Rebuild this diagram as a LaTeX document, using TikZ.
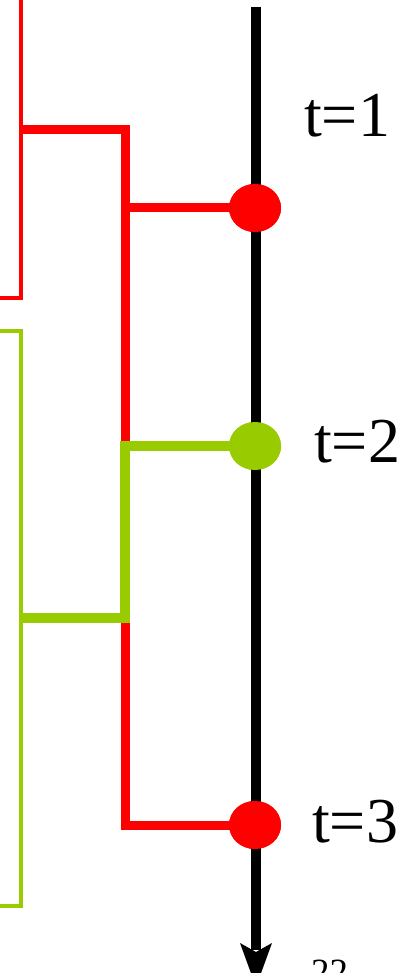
\documentclass[tikz,border=0pt]{standalone}
\usepackage{fontspec}
\setmainfont{Liberation Serif}
\usetikzlibrary{shapes.geometric}
\definecolor{lgreen}{RGB}{153,204,0}
\tikzset{
  dotnode/.style={ellipse, minimum width=52pt, minimum height=48pt, inner sep=0pt, draw=none},
  thinline/.style={line width=4pt, miter limit=10},
  thickline/.style={line width=9pt, miter limit=10},
  lbl/.style={anchor=base west, inner sep=0pt, font=\fontsize{64}{64}\selectfont},
}
\begin{document}
\begin{tikzpicture}[x=1pt,y=-1pt]
\useasboundingbox (0,0) rectangle (412,973);
\clip (0,0) rectangle (412,973);
% thin brackets
\draw[thinline, red] (21,-10) -- (21,298) -- (-10,298);
\draw[thinline, lgreen] (-10,331) -- (21,331) -- (21,906) -- (-10,906);
% coordinates
\coordinate (rtop) at (21,130);
\coordinate (gmid) at (21,618);
% dots
\node[dotnode, fill=red] (d1) at (255,208) {};
\node[dotnode, fill=lgreen] (d2) at (255,446) {};
\node[dotnode, fill=red] (d3) at (255,825) {};
% red tree
\draw[thickline, red] (rtop) -- (125,130) -- (125,825) -- (d3.center);
\draw[thickline, red] (125,208) -- (d1.center);
% green tree
\draw[line width=10pt, lgreen, miter limit=10] (gmid) -- (125,618) -- (125,446) -- (d2.center);
% axis
\coordinate (atop) at (256,7);
\coordinate (abot) at (256,950);
\draw[line width=10pt, black] (atop) -- (abot);
\fill[black] (240,943) -- (256,952) -- (272,943) -- (256,987) -- cycle;
% dots on top
\node[dotnode, fill=red] at (d1) {};
\node[dotnode, fill=lgreen] at (d2) {};
\node[dotnode, fill=red] at (d3) {};
% labels
\node[lbl] (l1) at (304,137) {t=1};
\node[lbl] (l2) at (314,462) {t=2};
\node[lbl] (l3) at (312,842) {t=3};
\node[anchor=base west, inner sep=0pt, font=\fontsize{37}{37}\selectfont] (pg) at (311,984) {22};
\end{tikzpicture}
\end{document}
